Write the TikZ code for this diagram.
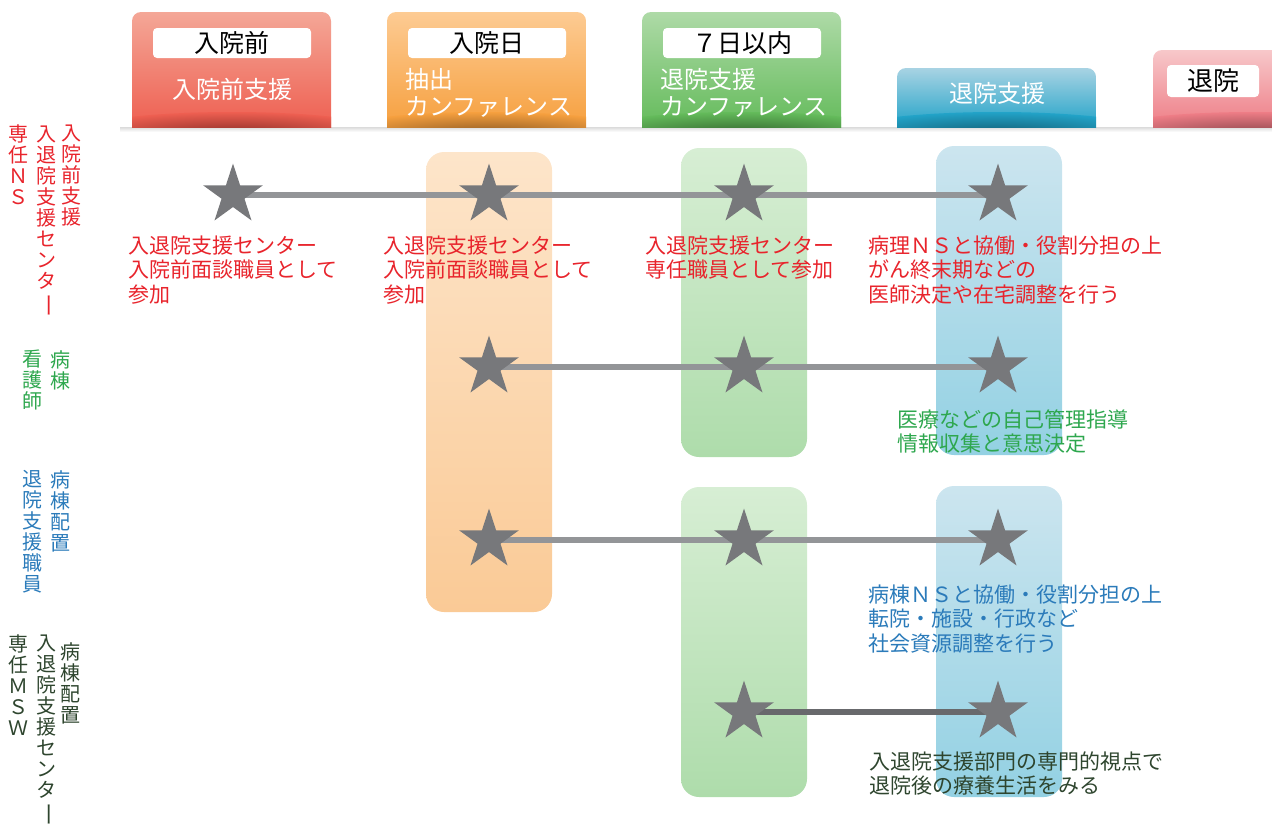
\documentclass[tikz,border=0pt]{standalone}
\usepackage{fontspec}
\setmainfont{Noto Sans CJK JP}
\usepackage{graphicx}
\usetikzlibrary{shapes.geometric}
\definecolor{hRt}{HTML}{F4A797}\definecolor{hRb}{HTML}{EE5F51}\definecolor{hRs}{HTML}{8E2E28}
\definecolor{hOt}{HTML}{FDCB93}\definecolor{hOb}{HTML}{F6A03F}\definecolor{hOs}{HTML}{8E5A22}
\definecolor{hGt}{HTML}{AEDAA7}\definecolor{hGb}{HTML}{64BB5B}\definecolor{hGs}{HTML}{33662E}
\definecolor{hBt}{HTML}{A8D3E3}\definecolor{hBb}{HTML}{22A3C8}\definecolor{hBs}{HTML}{135E74}
\definecolor{hPt}{HTML}{F7C8CA}\definecolor{hPb}{HTML}{EE7D86}\definecolor{hPs}{HTML}{8E464C}
\definecolor{cOt}{HTML}{FDE5CA}\definecolor{cOb}{HTML}{FACA96}
\definecolor{cGt}{HTML}{D7EED4}\definecolor{cGb}{HTML}{AEDCAB}
\definecolor{cBt}{HTML}{CCE5EF}\definecolor{cBb}{HTML}{93D1E3}
\definecolor{cStar}{HTML}{77787B}
\definecolor{cLine}{HTML}{939598}
\definecolor{cLineD}{HTML}{68696C}
\definecolor{tRed}{HTML}{E8242C}
\definecolor{tGreen}{HTML}{2EA74E}
\definecolor{tBlue}{HTML}{2B7BBA}
\definecolor{tDark}{HTML}{2E452E}
\pgfdeclarelayer{bg}\pgfdeclarelayer{lines}
\pgfsetlayers{bg,lines,main}
\newcommand{\vbarchar}{\rotatebox[origin=c]{-90}{\scalebox{1.2}[1]{ー}}}
\begin{document}
\begin{tikzpicture}[x=1pt,y=-1pt,
  starmark/.style={star, star points=5, star point ratio=2.618, fill=cStar, draw=none, inner sep=0pt, minimum size=63pt},
  conn/.style={line width=5.5pt, draw=cLine},
  conndark/.style={line width=6.5pt, draw=cLineD},
  lab/.style={fill=white, rounded corners=4pt, minimum width=158pt, minimum height=30pt, inner sep=0pt, font=\fontsize{25pt}{25pt}\selectfont, text=black},
  htext/.style={text=white, font=\fontsize{24pt}{27.5pt}\selectfont, inner sep=0pt, align=left},
  body/.style={inner sep=0pt, align=left, anchor=north west, font=\fontsize{21pt}{24.5pt}\selectfont},
  vcol/.style={inner sep=0pt, align=center, anchor=north, font=\fontsize{20pt}{21pt}\selectfont}
]
\useasboundingbox (0,0) rectangle (1272,827);

% ---------- header shadow band ----------
\shade[top color=black!14, bottom color=white] (120,127) rectangle (1272,132);

% ---------- headers ----------
\begin{scope}
  \clip (0,0) rectangle (1272,127);
  \clip[rounded corners=9pt] (132,12) rectangle (331,170);
  \shade[top color=hRt, bottom color=hRb] (132,12) rectangle (331,127);
  \shade[inner color=hRs, outer color=hRb] (232,134) ellipse [x radius=160, y radius=22];
\end{scope}
\begin{scope}
  \clip (0,0) rectangle (1272,127);
  \clip[rounded corners=9pt] (387,12) rectangle (586,170);
  \shade[top color=hOt, bottom color=hOb] (387,12) rectangle (586,127);
  \shade[inner color=hOs, outer color=hOb] (487,134) ellipse [x radius=160, y radius=22];
\end{scope}
\begin{scope}
  \clip (0,0) rectangle (1272,127);
  \clip[rounded corners=9pt] (642,12) rectangle (841,170);
  \shade[top color=hGt, bottom color=hGb] (642,12) rectangle (841,127);
  \shade[inner color=hGs, outer color=hGb] (742,134) ellipse [x radius=160, y radius=22];
\end{scope}
\begin{scope}
  \clip (0,0) rectangle (1272,127);
  \clip[rounded corners=9pt] (897,68) rectangle (1096,170);
  \shade[top color=hBt, bottom color=hBb] (897,68) rectangle (1096,127);
  \shade[inner color=hBs, outer color=hBb] (997,134) ellipse [x radius=160, y radius=22];
\end{scope}
\begin{scope}
  \clip (0,0) rectangle (1272,127);
  \clip[rounded corners=9pt] (1153,50) rectangle (1350,170);
  \shade[top color=hPt, bottom color=hPb] (1153,50) rectangle (1272,127);
  \shade[inner color=hPs, outer color=hPb] (1253,134) ellipse [x radius=160, y radius=22];
\end{scope}

\node[lab] (l1) at (232,43) {入院前};
\node[lab] (l2) at (487,43) {入院日};
\node[lab] (l3) at (742,43) {７日以内};
\node[lab, minimum width=92pt, minimum height=32pt, font=\fontsize{26pt}{26pt}\selectfont] (l5) at (1213,81) {退院};

\node[htext] (t1) at (232,89) {入院前支援};
\node[htext, anchor=north west] (t2) at (405,68) {抽出\\カンファレンス};
\node[htext, anchor=north west] (t3) at (660,68) {退院支援\\カンファレンス};
\node[htext] (t4) at (997,93) {退院支援};

% ---------- columns ----------
\begin{pgfonlayer}{bg}
  \shade[top color=cOt, bottom color=cOb, rounded corners=18pt] (426,152) rectangle (552,612);
  \shade[top color=cGt, bottom color=cGb, rounded corners=18pt] (681,148) rectangle (807,457);
  \shade[top color=cGt, bottom color=cGb, rounded corners=18pt] (681,487) rectangle (807,797);
  \shade[top color=cBt, bottom color=cBb, rounded corners=18pt] (936,146) rectangle (1062,455);
  \shade[top color=cBt, bottom color=cBb, rounded corners=18pt] (936,486) rectangle (1062,797);
\end{pgfonlayer}

% ---------- stars ----------
\node[starmark] (s11) at (233,195) {};
\node[starmark] (s12) at (489,195) {};
\node[starmark] (s13) at (744,195) {};
\node[starmark] (s14) at (998,195) {};
\node[starmark] (s22) at (489,367) {};
\node[starmark] (s23) at (744,367) {};
\node[starmark] (s24) at (998,367) {};
\node[starmark] (s32) at (489,540) {};
\node[starmark] (s33) at (744,540) {};
\node[starmark] (s34) at (998,540) {};
\node[starmark] (s43) at (744,712) {};
\node[starmark] (s44) at (998,712) {};

\begin{pgfonlayer}{lines}
  \draw[conn] (s11.center) -- (s14.center);
  \draw[conn] (s22.center) -- (s24.center);
  \draw[conn] (s32.center) -- (s34.center);
  \draw[conndark] (s43.center) -- (s44.center);
\end{pgfonlayer}

% ---------- body texts ----------
\node[body, text=tRed] (r1a) at (128,235.5) {入退院支援センター\\入院前面談職員として\\参加};
\node[body, text=tRed] (r1b) at (383,235.5) {入退院支援センター\\入院前面談職員として\\参加};
\node[body, text=tRed] (r1c) at (645,235.5) {入退院支援センター\\専任職員として参加};
\node[body, text=tRed] (r1d) at (868,235.5) {病理ＮＳと協働・役割分担の上\\がん終末期などの\\医師決定や在宅調整を行う};
\node[body, text=tGreen] (r2) at (897,409.5) {医療などの自己管理指導\\情報収集と意思決定};
\node[body, text=tBlue] (r3) at (868,584.5) {病棟ＮＳと協働・役割分担の上\\転院・施設・行政など\\社会資源調整を行う};
\node[body, text=tDark] (r4) at (869,751.5) {入退院支援部門の専門的視点で\\退院後の療養生活をみる};

% ---------- left vertical labels ----------
\node[vcol, text=tRed] (v1a) at (71,125) {入\\院\\前\\支\\援};
\node[vcol, text=tRed] (v1b) at (46,126) {入\\退\\院\\支\\援\\セ\\ン\\タ\\\vbarchar};
\node[vcol, text=tRed] (v1c) at (19,125) {専\\任\\Ｎ\\Ｓ};

\node[vcol, text=tGreen] (v2a) at (60,350) {病\\棟};
\node[vcol, text=tGreen] (v2b) at (33,350) {看\\護\\師};

\node[vcol, text=tBlue] (v3a) at (60,470) {病\\棟\\配\\置};
\node[vcol, text=tBlue] (v3b) at (33,470) {退\\院\\支\\援\\職\\員};

\node[vcol, text=tDark] (v4a) at (70,642) {病\\棟\\配\\置};
\node[vcol, text=tDark] (v4b) at (46,635) {入\\退\\院\\支\\援\\セ\\ン\\タ\\\vbarchar};
\node[vcol, text=tDark] (v4c) at (19,635) {専\\任\\Ｍ\\Ｓ\\Ｗ};
\end{tikzpicture}
\end{document}
